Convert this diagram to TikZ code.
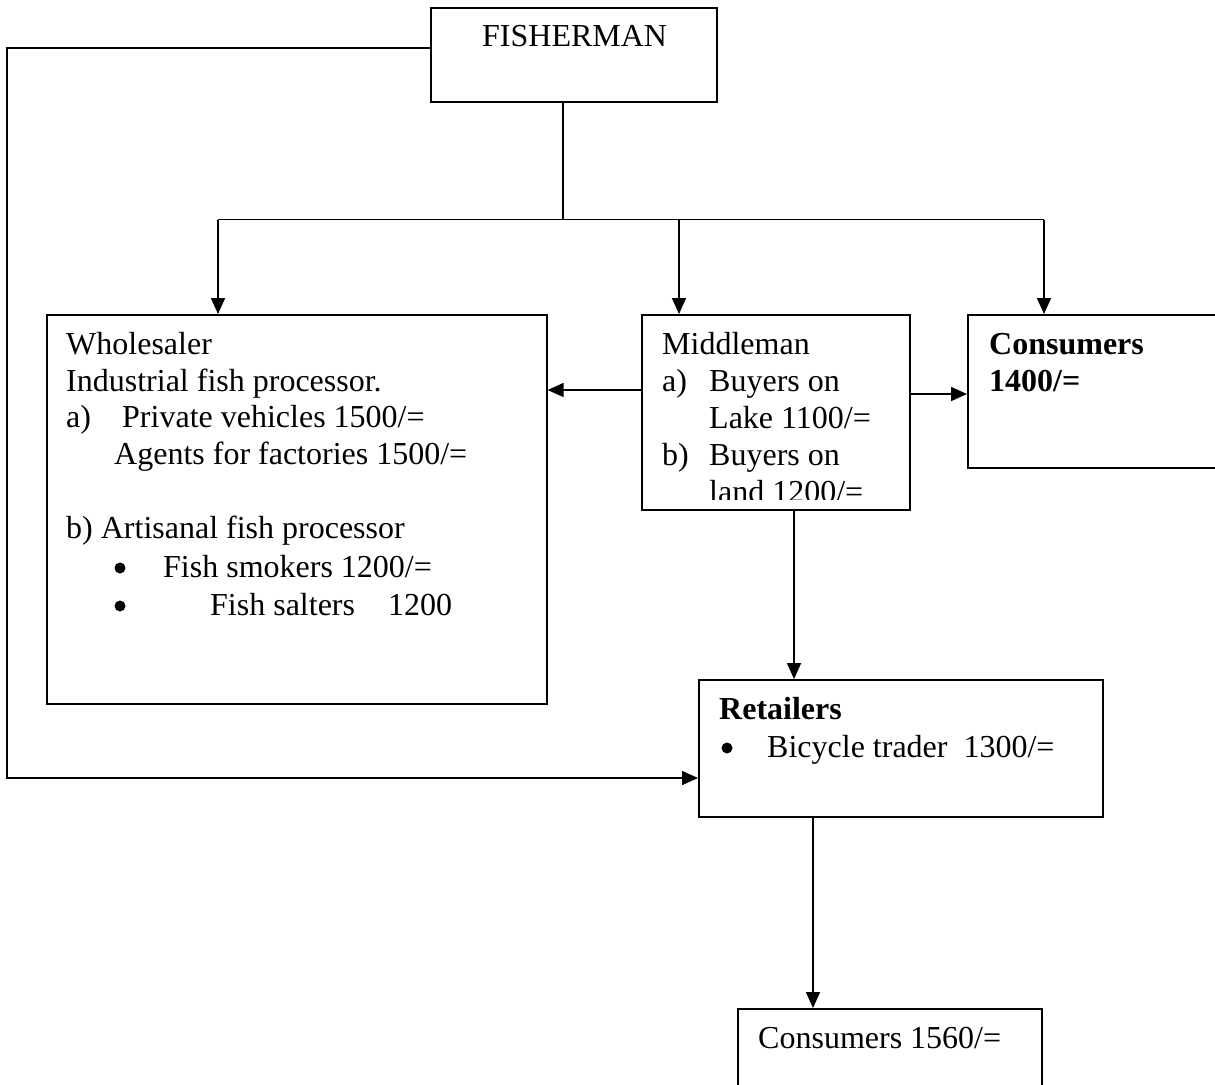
\documentclass[tikz,border=0pt]{standalone}
\usepackage{fontspec}
\setmainfont{Liberation Serif}
\usetikzlibrary{arrows.meta,calc}
\begin{document}
\begin{tikzpicture}[x=1pt,y=-1pt,
  box/.style={draw, line width=1.6pt, rectangle, inner sep=0pt, anchor=north west},
  link/.style={line width=1.6pt},
  arr/.style={link, -{Triangle[length=16pt,width=14pt]}},
  dot/.style={circle, fill, inner sep=0pt, minimum size=11pt},
  txt/.style={anchor=base west, inner sep=0pt, font=\fontsize{32}{37}\selectfont},
  btxt/.style={anchor=base west, inner sep=0pt, font=\fontsize{32}{37}\selectfont\bfseries}]
\useasboundingbox (0,0) rectangle (1215,1084);
\clip (0,0) rectangle (1215,1084);

% boxes
\node[box, minimum width=286pt, minimum height=94pt]  (fish)  at (430,7)    {};
\node[box, minimum width=500pt, minimum height=389pt] (whole) at (46,314)   {};
\node[box, minimum width=268pt, minimum height=195pt] (mid)   at (641,314)  {};
\node[box, minimum width=280pt, minimum height=153pt] (cons)  at (967,314)  {};
\node[box, minimum width=404pt, minimum height=137pt] (ret)   at (698,679)  {};
\node[box, minimum width=304pt, minimum height=120pt] (cons2) at (737,1008) {};

% texts
\node[txt] (tfish) at (482,46) {FISHERMAN};

\node[txt] (w1) at (66,354) {Wholesaler};
\node[txt] (w2) at (66,391) {Industrial fish processor.};
\node[txt] (w3a) at (66,427) {a)};
\node[txt] (w3) at (122,427) {Private vehicles 1500/=};
\node[txt] (w4) at (114,464) {Agents for factories 1500/=};
\node[txt] (w5) at (66,538) {b) Artisanal fish processor};
\node[dot] (w6a) at (120,568) {};
\node[txt] (w6) at (163,577) {Fish smokers 1200/=};
\node[dot] (w7a) at (120,606) {};
\node[txt] (w7) at (210,615) {Fish salters};
\node[txt] (w7b) at (388,615) {1200};

\begin{scope}
  \clip (641,314) rectangle (909,499);
  \node[txt] (m1) at (662,354) {Middleman};
  \node[txt] (m2a) at (662,391) {a)};
  \node[txt] (m2) at (709,391) {Buyers on};
  \node[txt] (m3) at (709,428) {Lake 1100/=};
  \node[txt] (m4a) at (662,465) {b)};
  \node[txt] (m4) at (709,465) {Buyers on};
  \node[txt] (m5) at (709,502) {land 1200/=};
\end{scope}

\node[btxt] (c1) at (989,354) {Consumers};
\node[btxt] (c2) at (989,391) {1400/=};

\node[btxt] (r1) at (719,719) {Retailers};
\node[dot] (r2a) at (727,748) {};
\node[txt] (r2) at (767,757) {Bicycle trader\ \ 1300/=};

\node[txt] (cc) at (758,1048) {Consumers 1560/=};

% connector end points
\coordinate (fbot)  at ($(fish.south west)+(133,0)$);
\coordinate (split) at ($(fish.south west)+(133,117)$);
\coordinate (wtop)  at ($(whole.north west)+(172,0)$);
\coordinate (mtop)  at ($(mid.north west)+(38,0)$);
\coordinate (ctop)  at ($(cons.north west)+(77,0)$);
\coordinate (mleft) at ($(mid.north west)+(0,76)$);
\coordinate (mright) at ($(mid.north east)+(0,80)$);
\coordinate (mbot)  at ($(mid.south west)+(153,0)$);
\coordinate (rbot)  at ($(ret.south west)+(115,0)$);
\coordinate (fleft) at ($(fish.north west)+(0,41)$);
\coordinate (rleft) at ($(ret.north west)+(0,99)$);
\coordinate (loopa) at (7,48);
\coordinate (loopb) at (7,778);

% connectors
\draw[link] (fbot) -- (split);
\draw[link] (wtop |- split) -- (ctop |- split);
\draw[arr] (wtop |- split) -- (wtop);
\draw[arr] (mtop |- split) -- (mtop);
\draw[arr] (ctop |- split) -- (ctop);

\draw[arr] (mleft) -- (mleft -| whole.east);
\draw[arr] (mright) -- (mright -| cons.west);

\draw[arr] (mbot) -- (mbot |- ret.north);
\draw[arr] (rbot) -- (rbot |- cons2.north);

\draw[arr] (fleft) -- (loopa) -- (loopb) -- (rleft);
\end{tikzpicture}
\end{document}
